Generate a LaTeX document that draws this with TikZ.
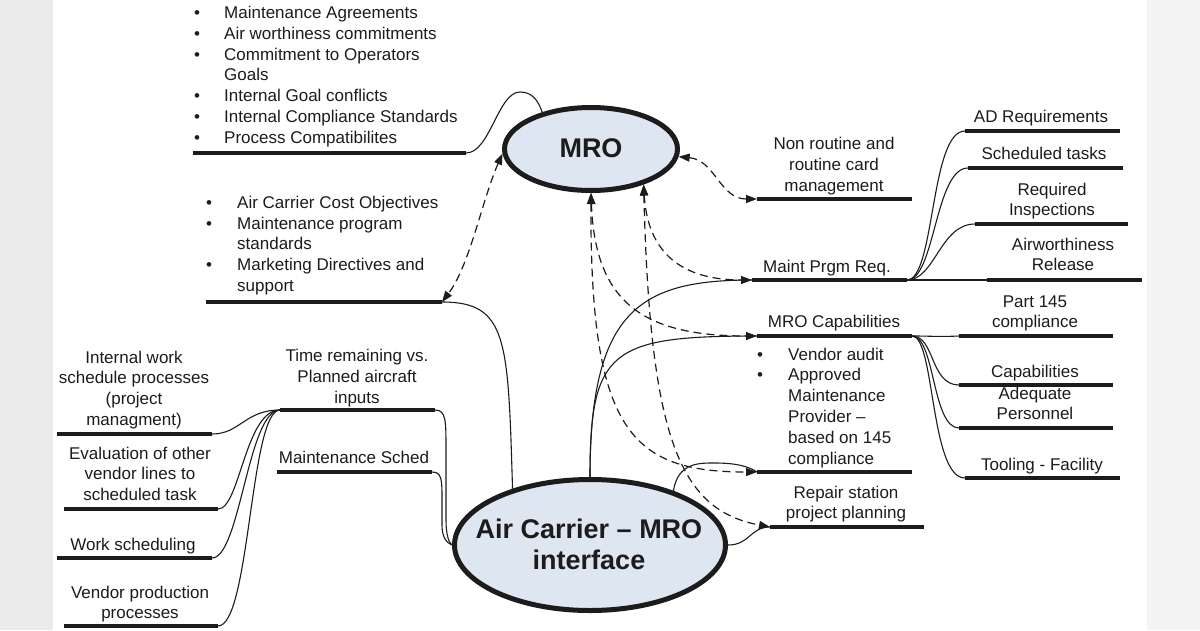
\documentclass[tikz,border=0pt]{standalone}
\usepackage{fontspec}
\setmainfont{Liberation Sans}
\usetikzlibrary{shapes.geometric,arrows.meta}
\definecolor{ink}{HTML}{1C1C1C}
\definecolor{bubble}{HTML}{DEE6F2}
\definecolor{sideL}{HTML}{EBEBEB}
\definecolor{sideR}{HTML}{F3F3F3}
\tikzset{
  txt/.style={font=\fontsize{17}{20.8}\selectfont, text=ink, inner sep=0pt, anchor=base},
  btxt/.style={txt, anchor=base west},
  bar/.style={line width=4pt, draw=ink},
  link/.style={line width=1.1pt, draw=ink},
  dlink/.style={line width=1.2pt, draw=ink, dash pattern=on 8pt off 5pt,
    {Triangle[length=11pt,width=8pt]}-{Triangle[length=11pt,width=8pt]}},
  bubblenode/.style={ellipse, draw=ink, fill=bubble, line width=5pt, inner sep=0pt},
  bigtxt/.style={font=\bfseries\fontsize{27}{31}\selectfont, text=ink, inner sep=0pt, align=center}
}
\begin{document}
\begin{tikzpicture}[x=1pt,y=-1pt]
\useasboundingbox (0,0) rectangle (1200,630);
\fill[white] (53,0) rectangle (1147,630);
\fill[sideL] (0,0) rectangle (53,630);
\fill[sideR] (1147,0) rectangle (1200,630);

% ellipses
\node[bubblenode, minimum width=173pt, minimum height=83pt] (mro) at (591,149) {};
\node[bigtxt] (mrot) at (591,148) {MRO};
\node[bubblenode, minimum width=271pt, minimum height=131pt] (ac) at (590,545) {};
\node[bigtxt] (act) at (589,544) {Air Carrier – MRO\\interface};

% bar coordinates
\coordinate (pcL) at (193,153);  \coordinate (pcR) at (466,153);
\coordinate (mkL) at (206,302);  \coordinate (mkR) at (442,302);
\coordinate (nrL) at (757,199);  \coordinate (nrR) at (912,199);
\coordinate (mpL) at (752,280);  \coordinate (mpR) at (907,280);
\coordinate (adL) at (965,131);  \coordinate (adR) at (1120,131);
\coordinate (stL) at (968,168);  \coordinate (stR) at (1123,168);
\coordinate (riL) at (975,224);  \coordinate (riR) at (1128,224);
\coordinate (awL) at (987,280);  \coordinate (awR) at (1142,280);
\coordinate (mcL) at (757,336);  \coordinate (mcR) at (912,336);
\coordinate (pfL) at (959,336);  \coordinate (pfR) at (1113,336);
\coordinate (cpL) at (959,385);  \coordinate (cpR) at (1113,385);
\coordinate (aqL) at (959,428);  \coordinate (aqR) at (1113,428);
\coordinate (tfL) at (965,478);  \coordinate (tfR) at (1120,478);
\coordinate (vaL) at (757,472);  \coordinate (vaR) at (912,472);
\coordinate (rsL) at (770,527);  \coordinate (rsR) at (924,527);
\coordinate (trL) at (280,410);  \coordinate (trR) at (435,410);
\coordinate (msL) at (277,472);  \coordinate (msR) at (432,472);
\coordinate (iwL) at (57,434);   \coordinate (iwR) at (212,434);
\coordinate (evL) at (64,509);   \coordinate (evR) at (218,509);
\coordinate (wsL) at (57,558);   \coordinate (wsR) at (212,558);
\coordinate (vpL) at (64,626);   \coordinate (vpR) at (218,626);

\foreach \b in {pc,mk,nr,mp,ad,st,ri,aw,mc,pf,cp,aq,tf,va,rs,tr,ms,iw,ev,ws,vp}
  \draw[bar] (\b L) -- (\b R);

% texts
\node[btxt] (pct) at (194,18.5) {\begin{tabular}[t]{@{}p{30pt}@{}l@{}}
\textbullet & Maintenance Agreements\\
\textbullet & Air worthiness commitments\\
\textbullet & Commitment to Operators\\
 & Goals\\
\textbullet & Internal Goal conflicts\\
\textbullet & Internal Compliance Standards\\
\textbullet & Process Compatibilites\end{tabular}};
\node[btxt] (mkt) at (206,208.3) {\begin{tabular}[t]{@{}p{31pt}@{}l@{}}
\textbullet & Air Carrier Cost Objectives\\
\textbullet & Maintenance program\\
 & standards\\
\textbullet & Marketing Directives and\\
 & support\end{tabular}};
\node[txt] (nrt) at (834,149.5) {\begin{tabular}[t]{@{}c@{}}Non routine and\\routine card\\management\end{tabular}};
\node[txt] (mpt) at (827,272) {Maint Prgm Req.};
\node[txt] (adt) at (1041,122) {AD Requirements};
\node[txt] (stt) at (1044,159) {Scheduled tasks};
\node[txt] (rit) at (1052,195) {\begin{tabular}[t]{@{}c@{}}Required\\Inspections\end{tabular}};
\node[txt] (awt) at (1063,250) {\begin{tabular}[t]{@{}c@{}}Airworthiness\\Release\end{tabular}};
\node[txt] (mct) at (834,327) {MRO Capabilities};
\node[txt] (pft) at (1035,307) {\begin{tabular}[t]{@{}c@{}}Part 145\\compliance\end{tabular}};
\node[txt] (cpt) at (1035,377) {Capabilities};
\node[txt] (aqt) at (1035,399) {\begin{tabular}[t]{@{}c@{}}Adequate\\Personnel\end{tabular}};
\node[txt] (tft) at (1042,470) {Tooling - Facility};
\node[btxt] (vat) at (757,360) {\begin{tabular}[t]{@{}p{31pt}@{}l@{}}
\textbullet & Vendor audit\\
\textbullet & Approved\\
 & Maintenance\\
 & Provider –\\
 & based on 145\\
 & compliance\end{tabular}};
\node[txt] (rst) at (846,498) {\begin{tabular}[t]{@{}c@{}}Repair station\\project planning\end{tabular}};
\node[txt] (trt) at (357,361.5) {\begin{tabular}[t]{@{}c@{}}Time remaining vs.\\Planned aircraft\\inputs\end{tabular}};
\node[txt] (mst) at (354,463) {Maintenance Sched};
\node[txt] (iwt) at (134,363) {\begin{tabular}[t]{@{}c@{}}Internal work\\schedule processes\\(project\\managment)\end{tabular}};
\node[txt] (evt) at (140,459) {\begin{tabular}[t]{@{}c@{}}Evaluation of other\\vendor lines to\\scheduled task\end{tabular}};
\node[txt] (wst) at (133,550) {Work scheduling};
\node[txt] (vpt) at (140,598) {\begin{tabular}[t]{@{}c@{}}Vendor production\\processes\end{tabular}};

% solid connectors
\draw[link] (pcR) .. controls (490,153) and (498,92) .. (520,92)
            .. controls (532,92) and (538,100) .. (mro.143.6);
\draw[link] (mkR) .. controls (508,302) and (508,340) .. (ac.144.7);
\draw[link] (ac.90) .. controls (590,310) and (640,280) .. (mpL);
\draw[link] (ac.90) .. controls (590,350) and (610,336) .. (mcL);
\draw[link] (ac.33) .. controls (678,462) and (700,463) .. (715,463)
            .. controls (735,463) and (748,466) .. (vaL);
\draw[link] (ac.0) .. controls (750,545) and (750,527) .. (rsL);
\draw[link] (trR) .. controls (446,410) and (446,420) .. (446,450) -- (446,520)
            .. controls (446,535) and (449,543) .. (ac.180);
\draw[link] (msR) .. controls (442,472) and (442,480) .. (442,500) -- (442,525)
            .. controls (442,538) and (447,543) .. (ac.180);
\draw[link] (iwR) .. controls (240,434) and (245,410) .. (trL);
\draw[link] (evR) .. controls (240,509) and (245,410) .. (trL);
\draw[link] (wsR) .. controls (240,558) and (248,410) .. (trL);
\draw[link] (vpR) .. controls (250,626) and (250,410) .. (trL);
\draw[link] (mpR) .. controls (935,280) and (930,131) .. (adL);
\draw[link] (mpR) .. controls (935,280) and (935,168) .. (stL);
\draw[link] (mpR) .. controls (935,280) and (940,224) .. (riL);
\draw[link] (mpR) -- (awL);
\draw[link] (mcR) .. controls (935,336) and (935,337) .. (pfL);
\draw[link] (mcR) .. controls (935,336) and (930,385) .. (cpL);
\draw[link] (mcR) .. controls (935,336) and (932,428) .. (aqL);
\draw[link] (mcR) .. controls (935,336) and (930,478) .. (tfL);

% dashed double arrows
\draw[dlink] (mro.183) .. controls (482,200) and (470,265) .. (mkR);
\draw[dlink] (mro.355) .. controls (715,160) and (720,199) .. (nrL);
\draw[dlink] (mro.270) .. controls (590,430) and (630,472) .. (vaL);
\draw[dlink] (mro.270) .. controls (595,300) and (640,336) .. (mcL);
\draw[dlink] (mro.326) .. controls (648,260) and (690,280) .. (mpL);
\draw[dlink] (mro.326) .. controls (650,440) and (680,510) .. (rsL);
\end{tikzpicture}
\end{document}
